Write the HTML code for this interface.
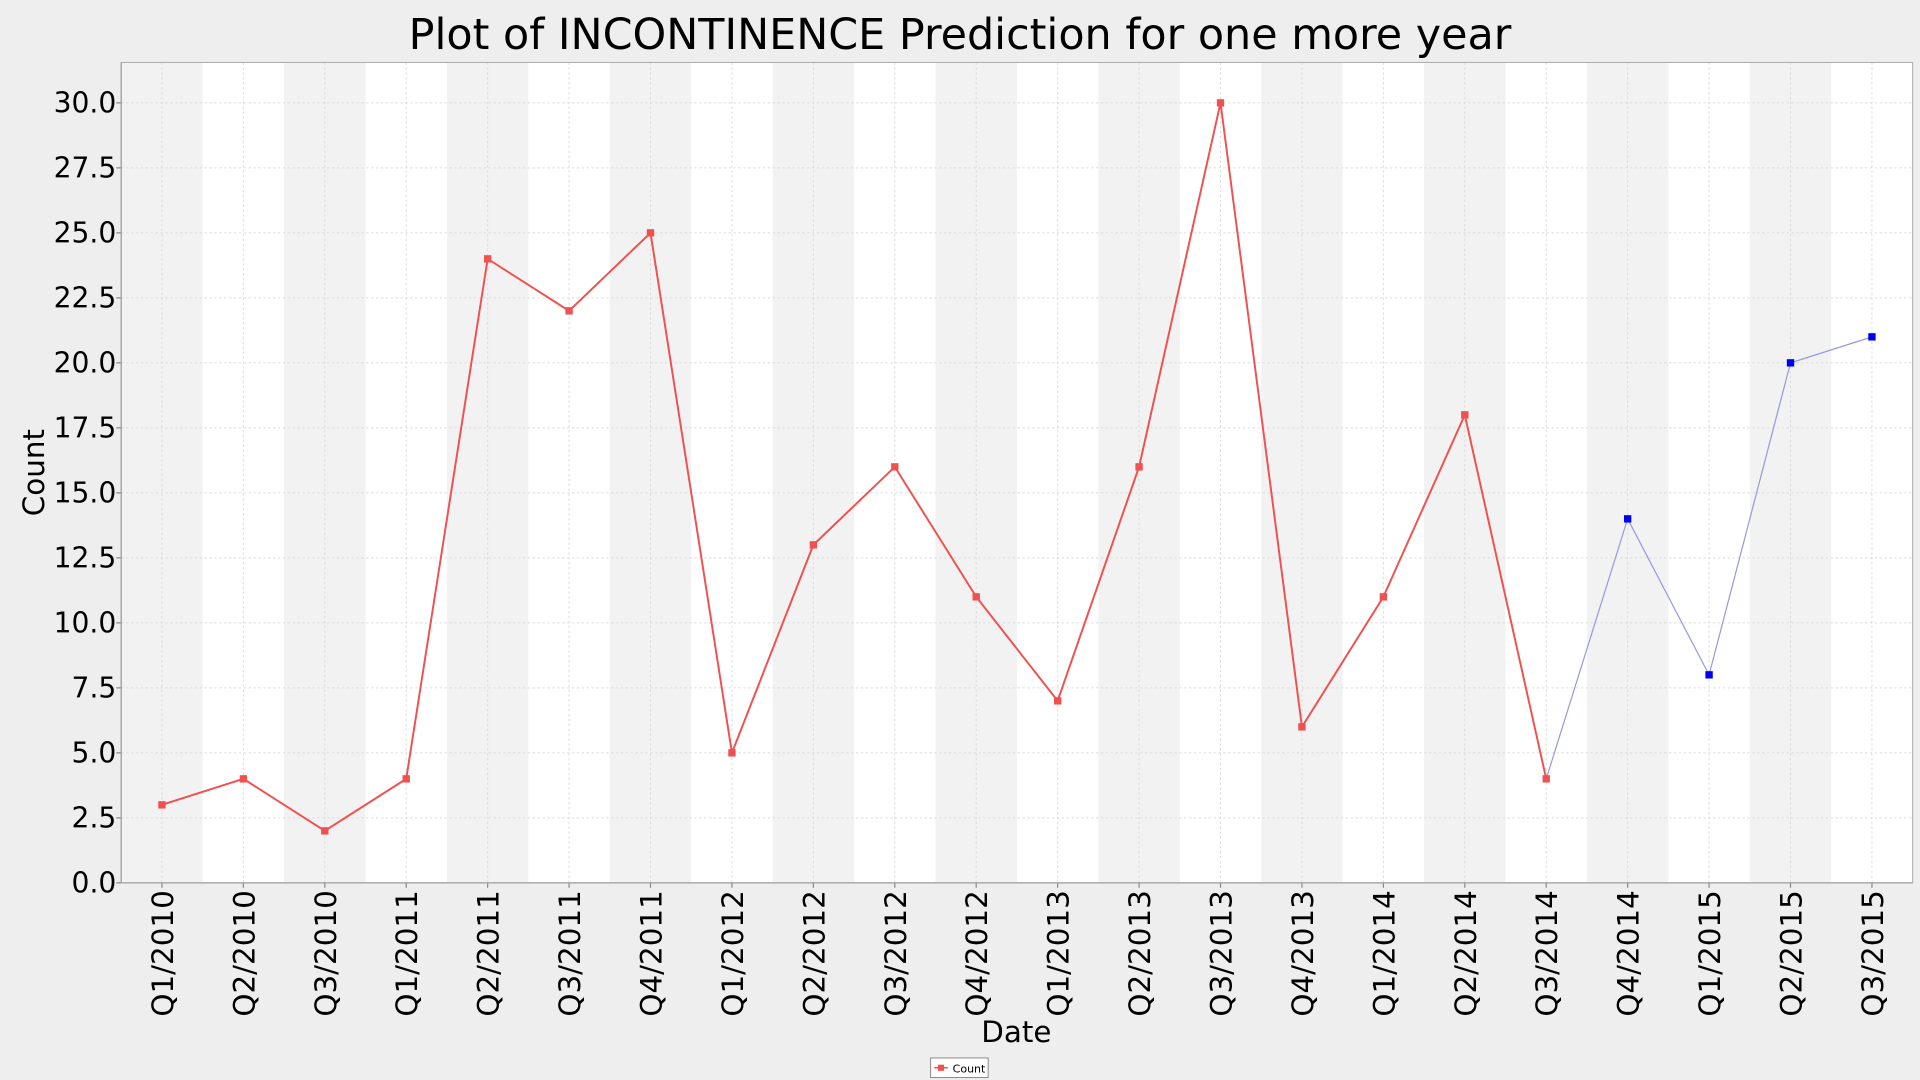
<!DOCTYPE html>
<html><head><meta charset="utf-8"><style>
html,body{margin:0;padding:0;background:#eeeeee;width:1920px;height:1080px;overflow:hidden}
svg{display:block;font-family:"DejaVu Sans","Liberation Sans",sans-serif}
</style></head><body>
<svg id="chart" width="1920" height="1080" viewBox="0 0 1568 882" xmlns="http://www.w3.org/2000/svg">
<rect x="0" y="0" width="1568" height="882" fill="#eeeeee"/>
<text x="784" y="40" font-size="35" text-anchor="middle" fill="#000">Plot of INCONTINENCE Prediction for one more year</text>
<g id="plot"></g>
<text transform="translate(36,386) rotate(-90)" font-size="24" text-anchor="middle">Count</text>
<text x="830" y="851" font-size="24" text-anchor="middle">Date</text>
<g>
<rect x="760" y="864" width="47" height="16" fill="#fff" stroke="#888" stroke-width="0.8"/>
<line x1="763" y1="872" x2="774" y2="872" stroke="#f05050" stroke-width="1.2"/>
<rect x="766" y="869.5" width="5" height="5" fill="#f05050"/>
<text x="778" y="876" font-size="9">Count</text>
</g>
</svg>
<script>
const categories=["Q1/2010","Q2/2010","Q3/2010","Q1/2011","Q2/2011","Q3/2011","Q4/2011","Q1/2012","Q2/2012","Q3/2012","Q4/2012","Q1/2013","Q2/2013","Q3/2013","Q4/2013","Q1/2014","Q2/2014","Q3/2014","Q4/2014","Q1/2015","Q2/2015","Q3/2015"];
const actualValues=[3,4,2,4,24,22,25,5,13,16,11,7,16,30,6,11,18,4];
const predictedStart=17;
const predictedValues=[4,14,8,20,21];
const yTicks=[0,2.5,5,7.5,10,12.5,15,17.5,20,22.5,25,27.5,30];
const NS="http://www.w3.org/2000/svg";
const L=99,R=1562,T=51,B=721;
const bw=(R-L)/categories.length;
const xPos=i=>L+bw*(i+0.5);
const yPos=v=>B-(v/30)*(B-84);
const g=document.getElementById('plot');
function mk(tag,attrs){const e=document.createElementNS(NS,tag);for(const k in attrs)e.setAttribute(k,attrs[k]);return e;}
g.appendChild(mk('rect',{x:L,y:T,width:R-L,height:B-T,fill:'#fff'}));
categories.forEach((c,i)=>{
  if(i%2===0){const b=mk('rect',{x:L+bw*i,y:T,width:bw,height:B-T,fill:'#f2f2f2'});
  
  g.appendChild(b);}
});
categories.forEach((c,i)=>{
  g.appendChild(mk('line',{x1:xPos(i),x2:xPos(i),y1:T,y2:B,stroke:'#dcdcdc','stroke-dasharray':'2,2','stroke-width':0.8}));
  const t=mk('text',{transform:`translate(${xPos(i)+9},727) rotate(-90)`,'font-size':24,'text-anchor':'end'});
  
  
  t.textContent=c;g.appendChild(t);
  g.appendChild(mk('line',{x1:xPos(i),x2:xPos(i),y1:B,y2:B+4,stroke:'#888'}));
});
yTicks.forEach(v=>{
  g.appendChild(mk('line',{x1:L,x2:R,y1:yPos(v),y2:yPos(v),stroke:'#dcdcdc','stroke-dasharray':'2,2','stroke-width':0.8}));
  g.appendChild(mk('line',{x1:L-4,x2:L,y1:yPos(v),y2:yPos(v),stroke:'#888'}));
  const t=mk('text',{x:L-4,y:yPos(v)+8,'font-size':23,'text-anchor':'end'});
  
  
  t.textContent=v.toFixed(1);g.appendChild(t);
});
g.appendChild(mk('line',{x1:L,x2:L,y1:T,y2:B,stroke:'#888'}));
g.appendChild(mk('line',{x1:L,x2:R,y1:B,y2:B,stroke:'#888'}));
g.appendChild(mk('rect',{x:L,y:T,width:R-L,height:B-T,fill:'none',stroke:'#aaa','stroke-width':0.8}));
function series(vals,start,color,width,name){
  const pts=vals.map((v,k)=>[xPos(start+k),yPos(v)]);
  const p=mk('polyline',{points:pts.map(p=>p.join(',')).join(' '),fill:'none',stroke:color,'stroke-width':width});
  
  
  g.appendChild(p);
  return pts;
}
const predPts=series(predictedValues,predictedStart,'#9999dd',1,'predicted');
const actPts=series(actualValues,0,'#f05050',1.6,'actual');
actPts.forEach(p=>{const r=mk('rect',{x:p[0]-3,y:p[1]-3,width:6,height:6,fill:'#f05050'});
  
  g.appendChild(r);});
predPts.slice(1).forEach(p=>{const r=mk('rect',{x:p[0]-3,y:p[1]-3,width:6,height:6,fill:'#0000ee'});
  
  g.appendChild(r);});
</script>
</body></html>
